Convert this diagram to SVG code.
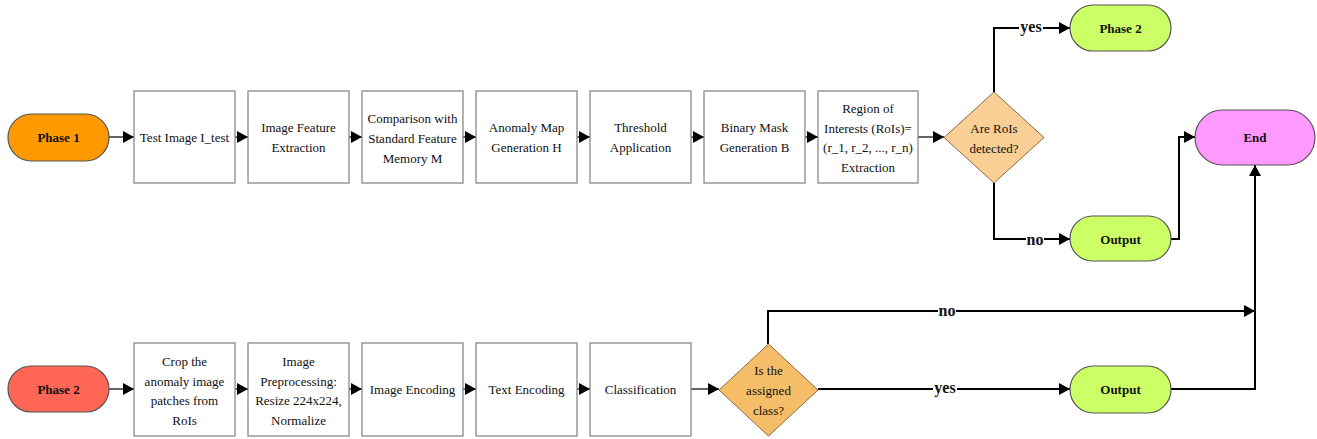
<svg xmlns="http://www.w3.org/2000/svg" width="1317" height="439" viewBox="0 0 1317 439">
<style>
.box{fill:#fff;stroke:#7f7f7f;stroke-width:1.2}
.pill{stroke:#555;stroke-width:1.2}
.dia{stroke:#8a6a40;stroke-width:1}
text{font-family:'Liberation Serif','Times New Roman',Times,'DejaVu Serif',serif}
.t{font-size:13px;fill:#111;text-anchor:middle;dominant-baseline:central}
.b{font-size:13px;font-weight:bold;fill:#111;text-anchor:middle;dominant-baseline:central}
.lbl{font-size:16px;font-weight:bold;fill:#111;text-anchor:middle;dominant-baseline:central}
.c{fill:none;stroke:#000;stroke-width:1.2;marker-end:url(#ah)}
.c2{fill:none;stroke:#000;stroke-width:2;marker-end:url(#ah)}
.lb{fill:#fff}
</style>
<defs>
<marker id="ah" markerUnits="userSpaceOnUse" markerWidth="12" markerHeight="12" refX="11" refY="6" orient="auto">
<path d="M0,0 L11,6 L0,12 z" fill="#000"/>
</marker>
</defs>
<rect width="1317" height="439" fill="#fff"/>

<g id="connectors">
<path class="c" d="M109,137 H134"/>
<path class="c" d="M235,137 H248"/>
<path class="c" d="M349,137 H362"/>
<path class="c" d="M463,137 H476"/>
<path class="c" d="M577,137 H590"/>
<path class="c" d="M691,137 H704"/>
<path class="c" d="M805,137 H818"/>
<path class="c" d="M918,137 H944"/>
<path class="c2" d="M994,92 V28 H1070"/>
<path class="c2" d="M994,183 V239 H1070"/>
<path class="c2" d="M1171,239 H1179 V137 H1195"/>
<path class="c" d="M109,389 H134"/>
<path class="c" d="M235,389 H248"/>
<path class="c" d="M349,389 H362"/>
<path class="c" d="M463,389 H476"/>
<path class="c" d="M577,389 H590"/>
<path class="c" d="M691,389 H719"/>
<path class="c2" d="M768,344 V311 H1255"/>
<path class="c2" d="M818,389 H1070"/>
<path class="c2" d="M1171,389 H1255 V165"/>
<rect class="lb" x="1019" y="18" width="24" height="18"/>
<text class="lbl" x="1031" y="26">yes</text>
<rect class="lb" x="1026" y="230" width="18" height="18"/>
<text class="lbl" x="1035" y="239">no</text>
<rect class="lb" x="938" y="302" width="18" height="18"/>
<text class="lbl" x="947" y="310">no</text>
<rect class="lb" x="933" y="380" width="24" height="18"/>
<text class="lbl" x="945" y="387">yes</text>
</g>

<g id="phase1"><rect class="pill" x="8" y="114" width="101" height="47" rx="23.5" fill="#ff9900"/><text class="b" x="58.5" y="137.5">Phase 1</text></g>
<g id="test-image"><rect class="box" x="134" y="91" width="101" height="92"/><text class="t" x="184.5" y="137">Test Image I_test</text></g>
<g id="feature-extraction"><rect class="box" x="248" y="91" width="101" height="92"/><text class="t" x="298.5" y="127.5">Image Feature</text><text class="t" x="298.5" y="147.5">Extraction</text></g>
<g id="comparison"><rect class="box" x="362" y="91" width="101" height="92"/><text class="t" x="412.5" y="118">Comparison with</text><text class="t" x="412.5" y="138">Standard Feature</text><text class="t" x="412.5" y="158">Memory M</text></g>
<g id="anomaly-map"><rect class="box" x="476" y="91" width="101" height="92"/><text class="t" x="526.5" y="127.5">Anomaly Map</text><text class="t" x="526.5" y="147.5">Generation H</text></g>
<g id="threshold"><rect class="box" x="590" y="91" width="101" height="92"/><text class="t" x="640.5" y="127.5">Threshold</text><text class="t" x="640.5" y="147.5">Application</text></g>
<g id="binary-mask"><rect class="box" x="704" y="91" width="101" height="92"/><text class="t" x="754.5" y="127.5">Binary Mask</text><text class="t" x="754.5" y="147.5">Generation B</text></g>
<g id="roi-extraction"><rect class="box" x="818" y="91" width="100" height="92"/><text class="t" x="868" y="108">Region of</text><text class="t" x="868" y="128">Interests (RoIs)=</text><text class="t" x="868" y="147.5">(r_1, r_2, ..., r_n)</text><text class="t" x="868" y="167">Extraction</text></g>
<g id="rois-detected"><polygon class="dia" points="994,92 1044,137.5 994,183 944,137.5" fill="#f9cf95"/><text class="t" x="994" y="128">Are RoIs</text><text class="t" x="994" y="148">detected?</text></g>
<g id="phase2-goto"><rect class="pill" x="1070" y="5" width="101" height="46" rx="23" fill="#ccff66"/><text class="b" x="1120.5" y="28">Phase 2</text></g>
<g id="output1"><rect class="pill" x="1070" y="216" width="101" height="45" rx="22.5" fill="#ccff66"/><text class="b" x="1120.5" y="239">Output</text></g>
<g id="end"><rect class="pill" x="1195" y="110" width="120" height="55" rx="27.5" fill="#ff99ff"/><text class="b" x="1255" y="137.5">End</text></g>

<g id="phase2"><rect class="pill" x="8" y="366" width="101" height="46" rx="23" fill="#ff6655"/><text class="b" x="58.5" y="389">Phase 2</text></g>
<g id="crop"><rect class="box" x="134" y="343" width="101" height="93"/><text class="t" x="184.5" y="361">Crop the</text><text class="t" x="184.5" y="381">anomaly image</text><text class="t" x="184.5" y="400">patches from</text><text class="t" x="184.5" y="420">RoIs</text></g>
<g id="preprocessing"><rect class="box" x="248" y="343" width="101" height="93"/><text class="t" x="298.5" y="361">Image</text><text class="t" x="298.5" y="381">Preprocessing:</text><text class="t" x="298.5" y="400">Resize 224x224,</text><text class="t" x="298.5" y="420">Normalize</text></g>
<g id="image-encoding"><rect class="box" x="362" y="343" width="101" height="93"/><text class="t" x="412.5" y="389.5">Image Encoding</text></g>
<g id="text-encoding"><rect class="box" x="476" y="343" width="101" height="93"/><text class="t" x="526.5" y="389.5">Text Encoding</text></g>
<g id="classification"><rect class="box" x="590" y="343" width="101" height="93"/><text class="t" x="640.5" y="389.5">Classification</text></g>
<g id="assigned-class"><polygon class="dia" points="768.5,344 818,390 768.5,436 719,390" fill="#f6bd68"/><text class="t" x="768.5" y="370">Is the</text><text class="t" x="768.5" y="390">assigned</text><text class="t" x="768.5" y="410">class?</text></g>
<g id="output2"><rect class="pill" x="1070" y="366" width="101" height="47" rx="23.5" fill="#ccff66"/><text class="b" x="1120.5" y="389.5">Output</text></g>
</svg>
